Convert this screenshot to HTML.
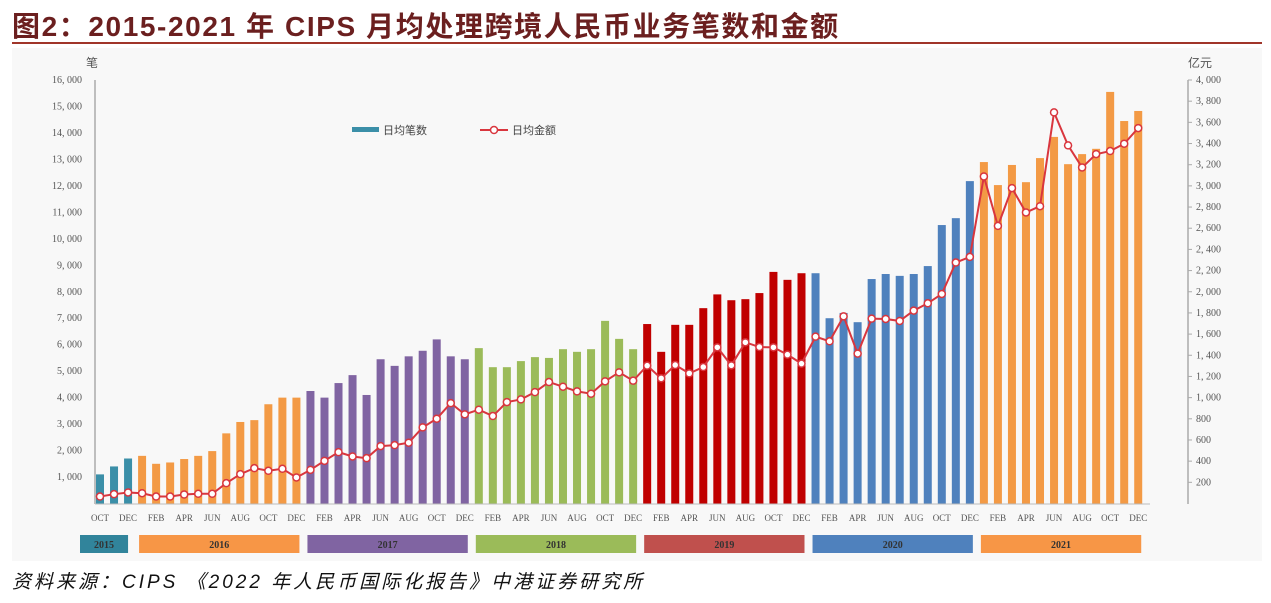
<!DOCTYPE html>
<html><head><meta charset="utf-8">
<style>
html,body{margin:0;padding:0;background:#fff;}
body{width:1271px;height:603px;position:relative;overflow:hidden;font-family:"Liberation Sans","Noto Sans CJK SC",sans-serif;}
#title{position:absolute;left:12px;top:5px;font-size:28px;font-weight:bold;color:#6b1f1f;white-space:nowrap;letter-spacing:1.6px;}
#rule{position:absolute;left:12px;top:42px;width:1250px;height:2px;background:#a0352a;}
#foot{position:absolute;left:12px;top:567px;font-size:19px;font-style:italic;color:#111;white-space:nowrap;letter-spacing:3px;}
svg{position:absolute;left:0;top:0;}
</style></head><body>
<div id="title">图2：2015-2021 年 CIPS 月均处理跨境人民币业务笔数和金额</div>
<div id="rule"></div>
<svg id="chart" width="1271" height="603"></svg>
<div id="foot">资料来源：CIPS 《2022 年人民币国际化报告》中港证券研究所</div>
<script>
const counts = [1100,1400,1700,
1800,1500,1550,1680,1800,1980,2650,3080,3150,3750,4000,4000,
4250,4000,4550,4850,4100,5450,5200,5560,5770,6200,5560,5450,
5870,5150,5150,5380,5530,5500,5830,5730,5830,6900,6220,5830,
6780,5730,6750,6750,7380,7900,7680,7720,7950,8750,8450,8700,
8700,7000,7200,6850,8480,8670,8600,8670,8970,10520,10780,12180,
12900,12030,12790,12140,13050,13850,12820,13200,13400,15550,14450,14830];
const amounts = [66,88,104,
97,66,66,85,92,92,192,277,334,309,328,246,
318,403,485,444,428,542,551,574,719,801,948,842,
886,826,958,983,1052,1147,1103,1059,1037,1154,1239,1160,
1302,1182,1308,1229,1289,1475,1305,1522,1478,1475,1406,1321,
1576,1532,1768,1416,1746,1743,1724,1822,1891,1979,2276,2329,
3089,2622,2979,2749,2808,3694,3382,3174,3300,3329,3398,3546];
const years = ['2015','2016','2017','2018','2019','2020','2021'];
const yearMonths = [3,12,12,12,12,12,12];
const monthNames = ['JAN','FEB','MAR','APR','MAY','JUN','JUL','AUG','SEP','OCT','NOV','DEC'];
const leftTicks = [1000,2000,3000,4000,5000,6000,7000,8000,9000,10000,11000,12000,13000,14000,15000,16000];
const rightTicks = [200,400,600,800,1000,1200,1400,1600,1800,2000,2200,2400,2600,2800,3000,3200,3400,3600,3800,4000];

const barColors = ['#3b8fa8','#f39a45','#8064a2','#9bbb59','#c00000','#4f81bd','#f39a45'];
const boxColors = ['#31849b','#f79646','#8064a2','#9bbb59','#c0504d','#4f81bd','#f79646'];
const svg = document.getElementById('chart');
const NS='http://www.w3.org/2000/svg';
function mk(t,a){const e=document.createElementNS(NS,t);for(const k in a)e.setAttribute(k,a[k]);svg.appendChild(e);return e;}
const x0=100, dx=14.03, y0=503.5;
const xs=i=>x0+i*dx;
const yl=v=>y0-v*(423.5/16000);
const yr=v=>y0-v*(423.5/4000);

let bg=mk('rect',{x:12,y:48,width:1250,height:513,fill:'#f8f8f8'});


let la=mk('line',{x1:95,y1:80,x2:95,y2:504,stroke:'#aaa','stroke-width':1.5});

let ra=mk('line',{x1:1188,y1:80,x2:1188,y2:504,stroke:'#aaa','stroke-width':1.5});

let xa=mk('line',{x1:95,y1:504,x2:1150,y2:504,stroke:'#bbb','stroke-width':1});

const fmt=v=>v.toLocaleString('en-US').replace(',',', ');
leftTicks.forEach(v=>{const t=mk('text',{x:82,y:yl(v)+3,'text-anchor':'end','font-size':10,fill:'#555','font-family':'Liberation Serif,serif'});t.textContent=fmt(v);
});
rightTicks.forEach(v=>{const t=mk('text',{x:1196,y:yr(v)+3,'font-size':10,fill:'#555','font-family':'Liberation Serif,serif'});t.textContent=fmt(v);

mk('line',{x1:1188,y1:yr(v),x2:1192,y2:yr(v),stroke:'#aaa'});});
let u1=mk('text',{x:86,y:67,'font-size':12,fill:'#555'});u1.textContent='笔';
let u2=mk('text',{x:1188,y:67,'font-size':12,fill:'#555'});u2.textContent='亿元';

let idx=0;
years.forEach((yrName,yi)=>{
  const n=yearMonths[yi]; const startMonth = yi===0?9:0; const first=idx;
  for(let m=0;m<n;m++){
    const v=counts[idx];
    const b=mk('rect',{x:xs(idx)-4,y:yl(v),width:8,height:y0-yl(v),fill:barColors[yi]});
    
    
    if((startMonth+m)%2===1){const t=mk('text',{x:xs(idx),y:521,'text-anchor':'middle','font-size':9,fill:'#555','font-family':'Liberation Serif,serif'});t.textContent=monthNames[startMonth+m];
      }
    idx++;
  }
  const bx = yi===0 ? 80 : xs(first)-3;
  const bw = (yi===0 ? xs(idx-1)+0 : xs(idx-1)+3) - bx;
  const r=mk('rect',{x:bx,y:535,width:bw,height:18,fill:boxColors[yi]});
  
  const t=mk('text',{x:bx+bw/2,y:548,'text-anchor':'middle','font-size':10,'font-weight':'bold',fill:'#333','font-family':'Liberation Serif,serif'});t.textContent=yrName;
  
});

const pts=amounts.map((v,i)=>xs(i)+','+yr(v)).join(' ');
const pl=mk('polyline',{points:pts,fill:'none',stroke:'#d9363e','stroke-width':2});

amounts.forEach((v,i)=>{const c=mk('circle',{cx:xs(i),cy:yr(v),r:3.5,fill:'#fff',stroke:'#d9363e','stroke-width':1.5});
});

const lb=mk('rect',{x:352,y:127,width:27,height:5,fill:'#3b8fa8'});

const lt1=mk('text',{x:383,y:134,'font-size':11,fill:'#444'});lt1.textContent='日均笔数';

const ll=mk('line',{x1:480,y1:130,x2:508,y2:130,stroke:'#d9363e','stroke-width':2});

mk('circle',{cx:494,cy:130,r:3.5,fill:'#fff',stroke:'#d9363e','stroke-width':1.5});
const lt2=mk('text',{x:512,y:134,'font-size':11,fill:'#444'});lt2.textContent='日均金额';

</script>
</body></html>
